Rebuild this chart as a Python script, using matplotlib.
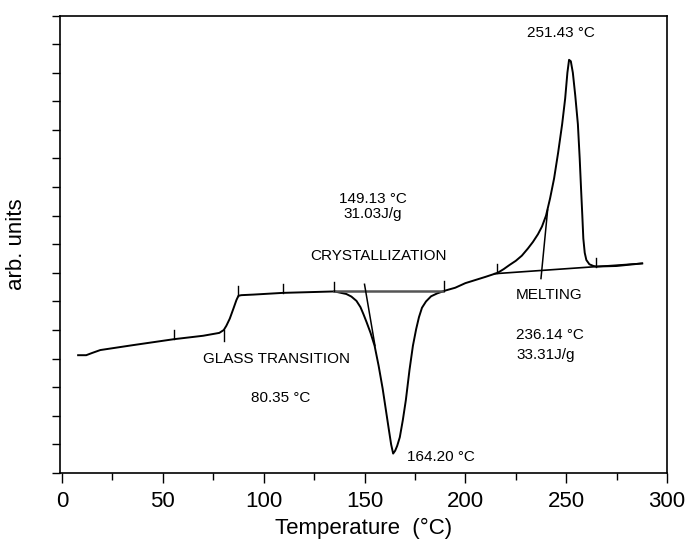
import matplotlib.pyplot as plt
import numpy as np

plt.rcParams['font.family'] = ['Liberation Sans', 'DejaVu Sans']

# DSC trace (temperature in degC, heat flow in arb. units)
temp = [8, 12, 15, 19, 35, 55.5, 70, 78, 80.2, 81.5, 83.2, 85, 86.5, 87.5, 89,
        95, 109.6, 125, 135.1, 141, 143.5, 146, 148, 149.5, 151, 153, 155, 157,
        159, 160.5, 162, 163.2, 164.2, 165.2, 166.2, 167.5, 169, 170.5, 172.3,
        174, 175.6, 177, 178.5, 180.5, 183, 186, 190, 195, 200, 205, 210, 216,
        219, 222, 225, 228, 231, 233.5, 236, 238, 240, 242, 244, 246, 248,
        249.5, 250.6, 251.43, 252.3, 253.3, 254.5, 255.8, 256.7, 257.4, 258,
        258.5, 259.2, 260, 261.5, 263.5, 265, 275, 287.6]
flow = [4.12, 4.12, 4.2, 4.3, 4.47, 4.68, 4.8, 4.9, 5.0, 5.15, 5.4, 5.75, 6.05,
        6.2, 6.22, 6.24, 6.30, 6.33, 6.35, 6.26, 6.17, 6.02, 5.8, 5.55, 5.28,
        4.9, 4.45, 3.75, 2.95, 2.25, 1.55, 1.0, 0.68, 0.78, 0.95, 1.25, 1.85,
        2.55, 3.6, 4.45, 5.03, 5.45, 5.78, 6.0, 6.18, 6.28, 6.38, 6.48, 6.64,
        6.75, 6.86, 7.0, 7.13, 7.28, 7.42, 7.6, 7.85, 8.08, 8.35, 8.62, 9.0,
        9.6, 10.3, 11.2, 12.2, 13.1, 14.0, 14.45, 14.4, 14.0, 13.2, 12.2, 11.0,
        9.9, 9.0, 8.2, 7.7, 7.45, 7.3, 7.24, 7.22, 7.24, 7.33]

# construction lines
cryst_base_x = [135, 189]
cryst_base_y = [6.37, 6.37]
cryst_tan_x = [150, 155.2]
cryst_tan_y = [6.6, 4.45]
melt_base_x = [214.5, 287.8]
melt_base_y = [6.97, 7.33]
melt_tan_x = [237.5, 240.8]
melt_tan_y = [6.8, 9.2]

# small marker ticks on the trace: (x, y0, y1)
marks = [(55.5, 4.68, 5.0), (80.2, 5.0, 4.62), (87.5, 6.2, 6.55),
         (109.6, 6.30, 6.62), (135.1, 6.35, 6.67), (189.5, 6.37, 6.7),
         (215.5, 6.99, 7.3), (265, 7.2, 7.52)]

fig = plt.figure(figsize=(6.91, 5.44), dpi=100)
ax = fig.add_axes([0.0868, 0.1305, 0.8785, 0.841])

ax.plot(temp, flow, color='black', lw=1.4, solid_joinstyle='round')
ax.plot(cryst_base_x, cryst_base_y, color='#555555', lw=1.8)
ax.plot(cryst_tan_x, cryst_tan_y, color='black', lw=1.1)
ax.plot(melt_base_x, melt_base_y, color='black', lw=1.2)
ax.plot(melt_tan_x, melt_tan_y, color='black', lw=1.1)
for mx, y0, y1 in marks:
    ax.plot([mx, mx], [y0, y1], color='black', lw=1.0)

txt = dict(fontsize=11, color='black')
ax.text(247.4, 15.4, '251.43 °C', ha='center', va='center', **txt)
ax.text(154, 9.57, '149.13 °C', ha='center', va='center', **txt)
ax.text(154, 9.05, '31.03J/g', ha='center', va='center', **txt)
ax.text(157, 7.59, 'CRYSTALLIZATION', ha='center', va='center', **txt)
ax.text(106.4, 3.98, 'GLASS TRANSITION', ha='center', va='center', **txt)
ax.text(108.3, 2.64, '80.35 °C', ha='center', va='center', **txt)
ax.text(171.3, 0.55, '164.20 °C', ha='left', va='center', **txt)
ax.text(225.1, 6.22, 'MELTING', ha='left', va='center', **txt)
ax.text(225.1, 4.83, '236.14 °C', ha='left', va='center', **txt)
ax.text(225.1, 4.12, '33.31J/g', ha='left', va='center', **txt)

ax.set_xlim(-1, 300)
ax.set_ylim(0, 16)
ax.set_xticks(np.arange(0, 301, 50))
ax.set_xticks(np.arange(25, 300, 50), minor=True)
ax.set_yticks(np.arange(0, 17, 1))
ax.set_yticklabels([])
ax.tick_params(axis='x', which='major', direction='out', length=7, width=1,
               labelsize=16, pad=6)
ax.tick_params(axis='x', which='minor', direction='out', length=5, width=1)
ax.tick_params(axis='y', direction='out', length=6, width=1)
for sp in ax.spines.values():
    sp.set_linewidth(1.2)

ax.set_xlabel('Temperature  (°C)', fontsize=16, labelpad=4)
ax.set_ylabel('arb. units', fontsize=16, labelpad=14)

fig.savefig('out.png', dpi=100)
